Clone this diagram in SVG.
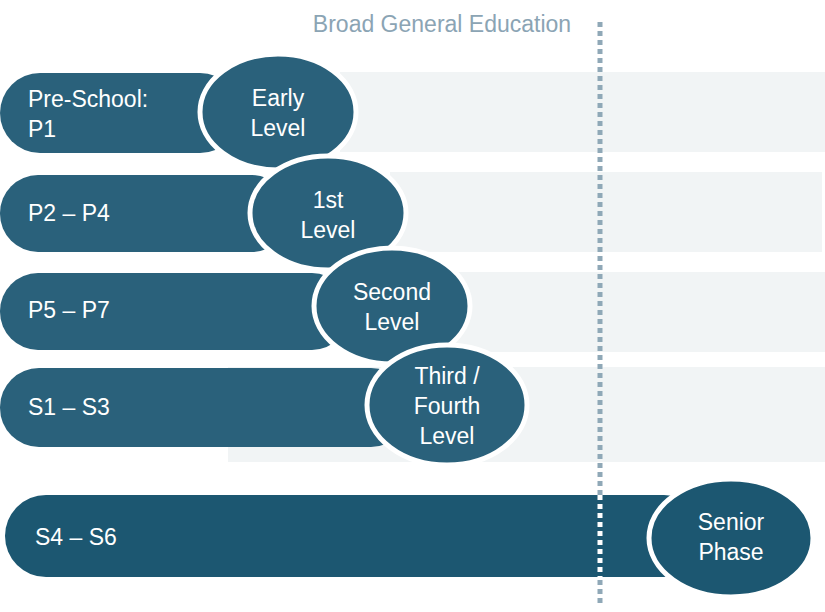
<svg xmlns="http://www.w3.org/2000/svg" width="825" height="612" viewBox="0 0 825 612">
<style>
.band{fill:#f1f4f5}
.pill{fill:#2a617b}
.ell{fill:#2a617b;stroke:#fff;stroke-width:5}
text{font-family:"Liberation Sans",Arial,sans-serif;font-size:23px;fill:#fff}
.c{text-anchor:middle}
</style>
<rect width="825" height="612" fill="#fff"/>
<g id="bands">
<rect class="band" x="340" y="72" width="485" height="80"/>
<rect class="band" x="390" y="172" width="432" height="80"/>
<rect class="band" x="455" y="272" width="370" height="80"/>
<rect class="band" x="228" y="367" width="597" height="95"/>
</g>
<g id="connectors">
<line x1="600" y1="22" x2="600" y2="606" stroke="#8fa8b7" stroke-width="5" stroke-dasharray="5,4"/>
</g>
<text x="442" y="32" class="c" style="fill:#8ba4b4">Broad General Education</text>
<g id="preschool"><rect class="pill" x="0" y="73" width="240" height="80" rx="40"/><text x="28" y="107">Pre-School:</text><text x="28" y="137">P1</text></g>
<g id="early"><ellipse class="ell" cx="278" cy="112" rx="78" ry="58"/><text class="c" x="278" y="106">Early</text><text class="c" x="278" y="136">Level</text></g>
<g id="p2p4"><rect class="pill" x="0" y="175" width="290" height="77" rx="38"/><text x="28" y="221">P2 – P4</text></g>
<g id="first"><ellipse class="ell" cx="328" cy="213" rx="78" ry="57"/><text class="c" x="328" y="208">1st</text><text class="c" x="328" y="238">Level</text></g>
<g id="p5p7"><rect class="pill" x="0" y="273" width="350" height="77" rx="38"/><text x="28" y="318">P5 – P7</text></g>
<g id="second"><ellipse class="ell" cx="392" cy="306" rx="78" ry="58"/><text class="c" x="392" y="300">Second</text><text class="c" x="392" y="330">Level</text></g>
<g id="s1s3"><rect class="pill" x="0" y="368" width="410" height="79" rx="39"/><text x="28" y="415">S1 – S3</text></g>
<g id="third"><ellipse class="ell" cx="447" cy="405" rx="80" ry="60"/><text class="c" x="447" y="384">Third /</text><text class="c" x="447" y="414">Fourth</text><text class="c" x="447" y="444">Level</text></g>
<g id="s4s6"><rect x="5" y="495" width="700" height="82" rx="41" fill="#1c5771"/><line x1="600" y1="495" x2="600" y2="577" stroke="#fff" stroke-width="5" stroke-dasharray="5,4"/><text x="35" y="545">S4 – S6</text></g>
<g id="senior"><ellipse class="ell" cx="731" cy="538" rx="82" ry="59" style="fill:#1c5771"/><text class="c" x="731" y="530">Senior</text><text class="c" x="731" y="560">Phase</text></g>
</svg>
